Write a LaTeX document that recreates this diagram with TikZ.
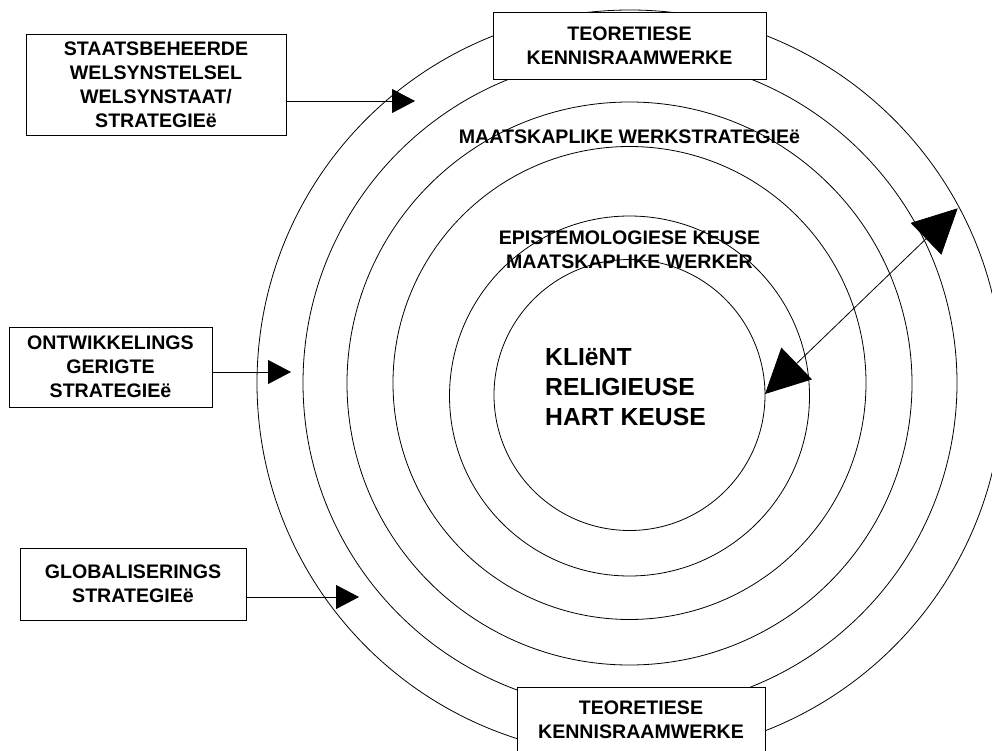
\documentclass[tikz,border=0pt]{standalone}
\usepackage{fontspec}
\setmainfont{Liberation Sans}
\usetikzlibrary{arrows.meta}
\begin{document}
\begin{tikzpicture}[x=1bp,y=-1bp,
  ring/.style={draw=black,line width=0.8bp},
  box/.style={draw=black,fill=white,line width=0.9bp,inner sep=0pt,align=center,font=\bfseries\fontsize{19.6bp}{24bp}\selectfont},
  lbl/.style={inner sep=0pt,align=center,font=\bfseries\fontsize{19.6bp}{24bp}\selectfont},
  smallarrow/.style={line width=0.8bp,-{Triangle[length=23bp,width=24bp]}},
  bigarrow/.style={line width=0.8bp,{Triangle[length=44bp,width=44bp]}-{Triangle[length=44bp,width=44bp]}}
]
\useasboundingbox (0,0) rectangle (992,751);
\clip (0,0) rectangle (992,751);
\fill[white] (0,0) rectangle (992,751);
% rings
\draw[ring] (630,383) circle[radius=373];
\draw[ring] (630,383) circle[radius=327];
\draw[ring] (629.5,383.5) circle[x radius=282.5, y radius=281.5];
\draw[ring] (629.5,383) circle[radius=236.5];
\draw[ring] (629.5,396) circle[radius=180];
\draw[ring] (629.5,395) circle[radius=135.5];
% labels inside rings
\node[lbl] (werk) at (629.5,137) {MAATSKAPLIKE WERKSTRATEGIEë};
\node[lbl] (epis) at (629.5,250) {EPISTEMOLOGIESE KEUSE\\MAATSKAPLIKE WERKER};
\node[lbl,anchor=west,align=left,font=\bfseries\fontsize{24.7bp}{30bp}\selectfont] (klient) at (545,387) {KLIëNT\\RELIGIEUSE\\HART KEUSE};
% boxes
\node[box,minimum width=260bp,minimum height=101bp] (boxA) at (156,84.5) {STAATSBEHEERDE\\WELSYNSTELSEL\\WELSYNSTAAT/\\STRATEGIEë};
\node[box,minimum width=203bp,minimum height=80bp] (boxB) at (110.5,367) {ONTWIKKELINGS\\GERIGTE\\STRATEGIEë};
\node[box,minimum width=226bp,minimum height=72bp] (boxC) at (133,584) {GLOBALISERINGS\\STRATEGIEë};
\node[box,minimum width=273bp,minimum height=67bp] (topbox) at (629.5,45.5) {TEORETIESE\\KENNISRAAMWERKE};
\node[box,minimum width=248bp,minimum height=66bp] (botbox) at (641,720) {TEORETIESE\\KENNISRAAMWERKE};
% arrows
\coordinate (tipA) at (415,101);
\coordinate (tipB) at (291,372);
\coordinate (tipC) at (359,597);
\draw[smallarrow] (boxA.east |- tipA) -- (tipA);
\draw[smallarrow] (boxB.east |- tipB) -- (tipB);
\draw[smallarrow] (boxC.east |- tipC) -- (tipC);
\coordinate (innertip) at (765,394);
\coordinate (outertip) at (957.7,208.3);
\draw[bigarrow] (innertip) -- (outertip);
\end{tikzpicture}
\end{document}
